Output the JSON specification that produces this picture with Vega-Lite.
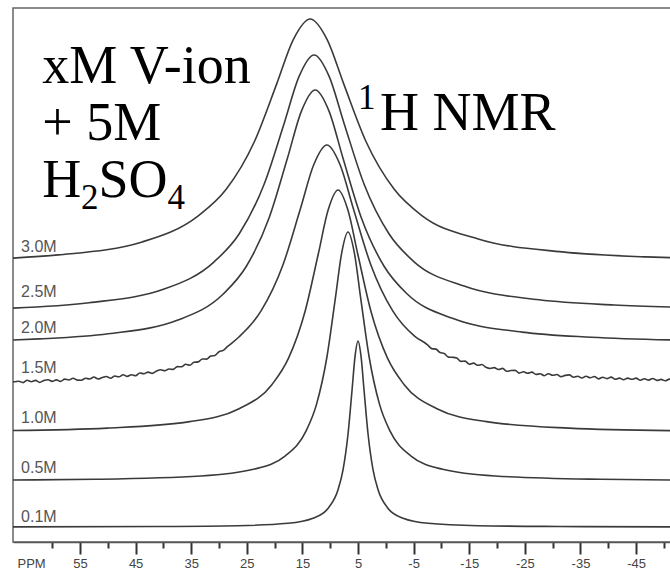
{
  "$schema": "https://vega.github.io/schema/vega-lite/v6.json",
  "width": 662,
  "height": 534,
  "autosize": {"type": "none"},
  "padding": {"left": 13, "top": 8, "right": 0, "bottom": 33},
  "background": "white",
  "config": {"view": {"stroke": "#666", "strokeWidth": 1.5}},
  "datasets": {
    "curves": [
      {"c":"3.0M","ppm":67.05,"v":283.9},{"c":"3.0M","ppm":58.92,"v":287.1},{"c":"3.0M","ppm":43.81,"v":300.1},{"c":"3.0M","ppm":33.74,"v":326.2},{"c":"3.0M","ppm":28.71,"v":352.7},{"c":"3.0M","ppm":23.67,"v":400},{"c":"3.0M","ppm":19.64,"v":457.9},{"c":"3.0M","ppm":16.62,"v":502.7},{"c":"3.0M","ppm":13.6,"v":523},{"c":"3.0M","ppm":10.58,"v":502.7},{"c":"3.0M","ppm":7.56,"v":457.9},{"c":"3.0M","ppm":3.53,"v":400},{"c":"3.0M","ppm":-1.51,"v":352.7},{"c":"3.0M","ppm":-6.54,"v":326.2},{"c":"3.0M","ppm":-16.61,"v":303.1},{"c":"3.0M","ppm":-31.72,"v":290.1},{"c":"3.0M","ppm":-46.82,"v":285.1},{"c":"3.0M","ppm":-52,"v":284.2},
      {"c":"2.5M","ppm":67.05,"v":233.9},{"c":"2.5M","ppm":53.36,"v":239.2},{"c":"2.5M","ppm":39.87,"v":252.9},{"c":"2.5M","ppm":30.88,"v":280.2},{"c":"2.5M","ppm":26.39,"v":308.0},{"c":"2.5M","ppm":21.89,"v":357.8},{"c":"2.5M","ppm":18.29,"v":418.6},{"c":"2.5M","ppm":15.6,"v":465.6},{"c":"2.5M","ppm":12.9,"v":487},{"c":"2.5M","ppm":10.2,"v":465.6},{"c":"2.5M","ppm":7.51,"v":418.6},{"c":"2.5M","ppm":3.91,"v":357.8},{"c":"2.5M","ppm":-0.59,"v":308.0},{"c":"2.5M","ppm":-5.08,"v":280.2},{"c":"2.5M","ppm":-14.07,"v":255.9},{"c":"2.5M","ppm":-27.56,"v":242.2},{"c":"2.5M","ppm":-41.04,"v":237.0},{"c":"2.5M","ppm":-52,"v":234.8},
      {"c":"2.0M","ppm":67.05,"v":202.0},{"c":"2.0M","ppm":62.32,"v":203.1},{"c":"2.0M","ppm":49.92,"v":208.2},{"c":"2.0M","ppm":37.51,"v":221.7},{"c":"2.0M","ppm":29.24,"v":248},{"c":"2.0M","ppm":25.11,"v":275.5},{"c":"2.0M","ppm":20.97,"v":324.5},{"c":"2.0M","ppm":17.66,"v":384.5},{"c":"2.0M","ppm":15.18,"v":430.9},{"c":"2.0M","ppm":12.7,"v":452},{"c":"2.0M","ppm":10.22,"v":430.9},{"c":"2.0M","ppm":7.74,"v":384.5},{"c":"2.0M","ppm":4.43,"v":324.5},{"c":"2.0M","ppm":0.29,"v":275.5},{"c":"2.0M","ppm":-3.84,"v":248},{"c":"2.0M","ppm":-12.11,"v":223.4},{"c":"2.0M","ppm":-24.52,"v":209.9},{"c":"2.0M","ppm":-36.92,"v":204.8},{"c":"2.0M","ppm":-52,"v":202.0},
      {"c":"1.5M","ppm":67.05,"v":160.0},{"c":"1.5M","ppm":66,"v":160.8},{"c":"1.5M","ppm":65.25,"v":159.4},{"c":"1.5M","ppm":64.5,"v":161.7},{"c":"1.5M","ppm":63.75,"v":160.3},{"c":"1.5M","ppm":63,"v":161.6},{"c":"1.5M","ppm":62.25,"v":159.6},{"c":"1.5M","ppm":61.5,"v":161.5},{"c":"1.5M","ppm":60.75,"v":162.3},{"c":"1.5M","ppm":60,"v":160.6},{"c":"1.5M","ppm":59.25,"v":162.1},{"c":"1.5M","ppm":58.5,"v":160.6},{"c":"1.5M","ppm":57.75,"v":162.9},{"c":"1.5M","ppm":57,"v":162.0},{"c":"1.5M","ppm":56.25,"v":163.8},{"c":"1.5M","ppm":55.5,"v":161.9},{"c":"1.5M","ppm":54.75,"v":161.8},{"c":"1.5M","ppm":54,"v":163.7},{"c":"1.5M","ppm":53.25,"v":163.0},{"c":"1.5M","ppm":52.5,"v":165.0},{"c":"1.5M","ppm":51.75,"v":163.0},{"c":"1.5M","ppm":51,"v":164.5},{"c":"1.5M","ppm":50.25,"v":165.5},{"c":"1.5M","ppm":49.5,"v":163.7},{"c":"1.5M","ppm":48.75,"v":166.0},{"c":"1.5M","ppm":48,"v":165.2},{"c":"1.5M","ppm":47.25,"v":167.2},{"c":"1.5M","ppm":46.5,"v":165.6},{"c":"1.5M","ppm":45.75,"v":167.3},{"c":"1.5M","ppm":45,"v":166.2},{"c":"1.5M","ppm":44.25,"v":169.0},{"c":"1.5M","ppm":43.5,"v":168.3},{"c":"1.5M","ppm":42.75,"v":169.9},{"c":"1.5M","ppm":42,"v":168.6},{"c":"1.5M","ppm":41.25,"v":170.9},{"c":"1.5M","ppm":40.5,"v":172.3},{"c":"1.5M","ppm":39.75,"v":171.2},{"c":"1.5M","ppm":39,"v":173.0},{"c":"1.5M","ppm":38.25,"v":172.6},{"c":"1.5M","ppm":37.5,"v":175.4},{"c":"1.5M","ppm":36.75,"v":175.2},{"c":"1.5M","ppm":36,"v":177.7},{"c":"1.5M","ppm":35.25,"v":176.7},{"c":"1.5M","ppm":34.5,"v":179.7},{"c":"1.5M","ppm":33.75,"v":180.1},{"c":"1.5M","ppm":33,"v":183.0},{"c":"1.5M","ppm":32.25,"v":182.9},{"c":"1.5M","ppm":31.5,"v":185.9},{"c":"1.5M","ppm":30.75,"v":186.6},{"c":"1.5M","ppm":30,"v":190.3},{"c":"1.5M","ppm":29.25,"v":191.6},{"c":"1.5M","ppm":28.5,"v":195.3},
      {"c":"1.5M","ppm":26.42,"v":205},{"c":"1.5M","ppm":22.47,"v":230.8},{"c":"1.5M","ppm":18.51,"v":277},{"c":"1.5M","ppm":15.35,"v":333.5},{"c":"1.5M","ppm":12.97,"v":377.2},{"c":"1.5M","ppm":10.6,"v":397},{"c":"1.5M","ppm":8.23,"v":377.2},{"c":"1.5M","ppm":5.85,"v":333.5},{"c":"1.5M","ppm":2.69,"v":277},{"c":"1.5M","ppm":-1.27,"v":230.8},{"c":"1.5M","ppm":-5.22,"v":205.6},
      {"c":"1.5M","ppm":-7.5,"v":197.2},{"c":"1.5M","ppm":-8.25,"v":193.4},{"c":"1.5M","ppm":-9,"v":192.9},{"c":"1.5M","ppm":-9.75,"v":189.4},{"c":"1.5M","ppm":-10.5,"v":188.6},{"c":"1.5M","ppm":-11.25,"v":184.9},{"c":"1.5M","ppm":-12,"v":184.7},{"c":"1.5M","ppm":-12.75,"v":184.0},{"c":"1.5M","ppm":-13.5,"v":180.6},{"c":"1.5M","ppm":-14.25,"v":180.9},{"c":"1.5M","ppm":-15,"v":177.8},{"c":"1.5M","ppm":-15.75,"v":178.9},{"c":"1.5M","ppm":-16.5,"v":176.7},{"c":"1.5M","ppm":-17.25,"v":177.5},{"c":"1.5M","ppm":-18,"v":174.7},{"c":"1.5M","ppm":-18.75,"v":173.5},{"c":"1.5M","ppm":-19.5,"v":174.4},{"c":"1.5M","ppm":-20.25,"v":172.5},{"c":"1.5M","ppm":-21,"v":173.6},{"c":"1.5M","ppm":-21.75,"v":170.7},{"c":"1.5M","ppm":-22.5,"v":171.5},{"c":"1.5M","ppm":-23.25,"v":171.6},{"c":"1.5M","ppm":-24,"v":168.9},{"c":"1.5M","ppm":-24.75,"v":170.3},{"c":"1.5M","ppm":-25.5,"v":168.8},{"c":"1.5M","ppm":-26.25,"v":169.9},{"c":"1.5M","ppm":-27,"v":167.6},{"c":"1.5M","ppm":-27.75,"v":168.2},{"c":"1.5M","ppm":-28.5,"v":166.3},{"c":"1.5M","ppm":-29.25,"v":168.3},{"c":"1.5M","ppm":-30,"v":166.7},{"c":"1.5M","ppm":-30.75,"v":167.5},{"c":"1.5M","ppm":-31.5,"v":165.4},{"c":"1.5M","ppm":-32.25,"v":166.6},{"c":"1.5M","ppm":-33,"v":167.1},{"c":"1.5M","ppm":-33.75,"v":164.8},{"c":"1.5M","ppm":-34.5,"v":165.7},{"c":"1.5M","ppm":-35.25,"v":164.0},{"c":"1.5M","ppm":-36,"v":165.8},{"c":"1.5M","ppm":-36.75,"v":164.2},{"c":"1.5M","ppm":-37.5,"v":165.5},{"c":"1.5M","ppm":-38.25,"v":163.1},{"c":"1.5M","ppm":-39,"v":164.8},{"c":"1.5M","ppm":-39.75,"v":163.4},{"c":"1.5M","ppm":-40.5,"v":164.9},{"c":"1.5M","ppm":-41.25,"v":162.8},{"c":"1.5M","ppm":-42,"v":163.9},{"c":"1.5M","ppm":-42.75,"v":162.3},{"c":"1.5M","ppm":-43.5,"v":163.9},{"c":"1.5M","ppm":-44.25,"v":162.7},{"c":"1.5M","ppm":-45,"v":163.9},{"c":"1.5M","ppm":-45.75,"v":161.8},{"c":"1.5M","ppm":-46.5,"v":163.2},{"c":"1.5M","ppm":-47.25,"v":161.9},{"c":"1.5M","ppm":-48,"v":163.5},{"c":"1.5M","ppm":-48.75,"v":161.6},{"c":"1.5M","ppm":-49.5,"v":162.6},{"c":"1.5M","ppm":-50.25,"v":161.2},{"c":"1.5M","ppm":-51,"v":162.9},{"c":"1.5M","ppm":-51.5,"v":161.5},{"c":"1.5M","ppm":-52,"v":162.2},
      {"c":"1.0M","ppm":67.05,"v":111.5},{"c":"1.0M","ppm":50.11,"v":113.9},{"c":"1.0M","ppm":35.29,"v":120.4},{"c":"1.0M","ppm":26.39,"v":133.3},{"c":"1.0M","ppm":20.46,"v":157.6},{"c":"1.0M","ppm":17.5,"v":183.8},{"c":"1.0M","ppm":14.53,"v":230.5},{"c":"1.0M","ppm":12.16,"v":287.7},{"c":"1.0M","ppm":10.38,"v":331.9},{"c":"1.0M","ppm":8.6,"v":352},{"c":"1.0M","ppm":6.82,"v":331.9},{"c":"1.0M","ppm":5.04,"v":287.7},{"c":"1.0M","ppm":2.67,"v":230.5},{"c":"1.0M","ppm":-0.3,"v":183.8},{"c":"1.0M","ppm":-3.26,"v":157.6},{"c":"1.0M","ppm":-9.19,"v":133.3},{"c":"1.0M","ppm":-18.09,"v":120.4},{"c":"1.0M","ppm":-32.91,"v":113.9},{"c":"1.0M","ppm":-52,"v":111.3},
      {"c":"0.5M","ppm":67.05,"v":62.0},{"c":"0.5M","ppm":52.16,"v":62.7},{"c":"0.5M","ppm":33.26,"v":66.0},{"c":"0.5M","ppm":23.81,"v":72.7},{"c":"0.5M","ppm":18.14,"v":85.9},{"c":"0.5M","ppm":14.36,"v":110.8},{"c":"0.5M","ppm":12.47,"v":137.6},{"c":"0.5M","ppm":10.58,"v":185.5},{"c":"0.5M","ppm":9.07,"v":244.1},{"c":"0.5M","ppm":7.93,"v":289.4},{"c":"0.5M","ppm":6.8,"v":310},{"c":"0.5M","ppm":5.67,"v":289.4},{"c":"0.5M","ppm":4.53,"v":244.1},{"c":"0.5M","ppm":3.02,"v":185.5},{"c":"0.5M","ppm":1.13,"v":137.6},{"c":"0.5M","ppm":-0.76,"v":110.8},{"c":"0.5M","ppm":-4.54,"v":85.9},{"c":"0.5M","ppm":-10.21,"v":72.7},{"c":"0.5M","ppm":-19.66,"v":66.0},{"c":"0.5M","ppm":-38.56,"v":62.7},{"c":"0.5M","ppm":-52,"v":62.0},
      {"c":"0.1M","ppm":67.05,"v":15.1},{"c":"0.1M","ppm":41,"v":15.5},{"c":"0.1M","ppm":26.6,"v":16.3},{"c":"0.1M","ppm":17.6,"v":18.7},{"c":"0.1M","ppm":13.1,"v":23.8},{"c":"0.1M","ppm":10.4,"v":33.6},{"c":"0.1M","ppm":8.6,"v":52.2},{"c":"0.1M","ppm":7.7,"v":72.2},{"c":"0.1M","ppm":6.8,"v":108},{"c":"0.1M","ppm":6.08,"v":151.8},{"c":"0.1M","ppm":5.54,"v":185.6},{"c":"0.1M","ppm":5.0,"v":201},{"c":"0.1M","ppm":4.46,"v":185.6},{"c":"0.1M","ppm":3.92,"v":151.8},{"c":"0.1M","ppm":3.2,"v":108},{"c":"0.1M","ppm":2.3,"v":72.2},{"c":"0.1M","ppm":1.4,"v":52.2},{"c":"0.1M","ppm":-0.4,"v":33.6},{"c":"0.1M","ppm":-3.1,"v":23.8},{"c":"0.1M","ppm":-7.6,"v":18.7},{"c":"0.1M","ppm":-16.6,"v":16.3},{"c":"0.1M","ppm":-31,"v":15.5},{"c":"0.1M","ppm":-52,"v":15.1}
    ],
    "labels": [
      {"t":"3.0M","ppm":65.6,"v":290},
      {"t":"2.5M","ppm":65.6,"v":245},
      {"t":"2.0M","ppm":65.6,"v":209},
      {"t":"1.5M","ppm":65.6,"v":169},
      {"t":"1.0M","ppm":65.6,"v":119},
      {"t":"0.5M","ppm":65.6,"v":69},
      {"t":"0.1M","ppm":65.6,"v":20}
    ],
    "notes": [
      {"t":"xM V-ion","role":"main","ppm":61.8,"v":459},
      {"t":"+ 5M","role":"main","ppm":61.8,"v":402},
      {"t":"H","role":"main","ppm":61.8,"v":345},
      {"t":"2","role":"sub","ppm":54.82,"v":333},
      {"t":"SO","role":"main","ppm":51.67,"v":345},
      {"t":"4","role":"sub","ppm":39.27,"v":333},
      {"t":"1","role":"sup","ppm":5.0,"v":433},
      {"t":"H NMR","role":"main2","ppm":1.05,"v":412}
    ]
  },
  "encoding": {
    "x": {
      "field": "ppm", "type": "quantitative",
      "scale": {"domain": [-52, 67.05], "reverse": true, "nice": false, "zero": false},
      "axis": {
        "values": [60,55,50,45,40,35,30,25,20,15,10,5,0,-5,-10,-15,-20,-25,-30,-35,-40,-45,-50],
        "labelExpr": "abs(datum.value) % 10 == 5 ? toString(datum.value) : ''",
        "tickSize": {"condition": {"test": "abs(datum.value) % 10 == 5", "value": 12}, "value": 6},
        "tickColor": "#333", "tickWidth": 2,
        "domainColor": "#555", "domainWidth": 1.5,
        "labelFont": "Liberation Sans", "labelFontSize": 13, "labelColor": "#444",
        "labelPadding": 3, "labelFlush": false, "labelOverlap": false, "grid": false,
        "title": "PPM", "titleX": 4, "titleY": 25, "titleAlign": "left", "titleBaseline": "alphabetic",
        "titleFont": "Liberation Sans", "titleFontSize": 13, "titleFontWeight": "normal", "titleColor": "#444"
      }
    },
    "y": {
      "field": "v", "type": "quantitative",
      "scale": {"domain": [0, 534], "nice": false, "zero": false},
      "axis": null
    }
  },
  "layer": [
    {
      "data": {"name": "curves"},
      "mark": {"type": "line", "interpolate": "monotone", "color": "#3a3a3a", "strokeWidth": 1.6, "clip": true},
      "encoding": {"detail": {"field": "c", "type": "nominal"}}
    },
    {
      "data": {"name": "labels"},
      "mark": {"type": "text", "align": "left", "baseline": "alphabetic", "font": "Liberation Sans", "fontSize": 16, "letterSpacing": 2, "color": "#555"},
      "encoding": {"text": {"field": "t"}}
    },
    {
      "data": {"name": "notes"},
      "transform": [{"filter": "datum.role == 'main'"}],
      "mark": {"type": "text", "align": "left", "baseline": "alphabetic", "font": "Liberation Serif", "fontSize": 54, "color": "#000"},
      "encoding": {"text": {"field": "t"}}
    },
    {
      "data": {"name": "notes"},
      "transform": [{"filter": "datum.role == 'main2'"}],
      "mark": {"type": "text", "align": "left", "baseline": "alphabetic", "font": "Liberation Serif", "fontSize": 54, "letterSpacing": 4, "color": "#000"},
      "encoding": {"text": {"field": "t"}}
    },
    {
      "data": {"name": "notes"},
      "transform": [{"filter": "datum.role == 'sub' || datum.role == 'sup'"}],
      "mark": {"type": "text", "align": "left", "baseline": "alphabetic", "font": "Liberation Serif", "fontSize": 35, "color": "#000"},
      "encoding": {"text": {"field": "t"}}
    }
  ]
}
